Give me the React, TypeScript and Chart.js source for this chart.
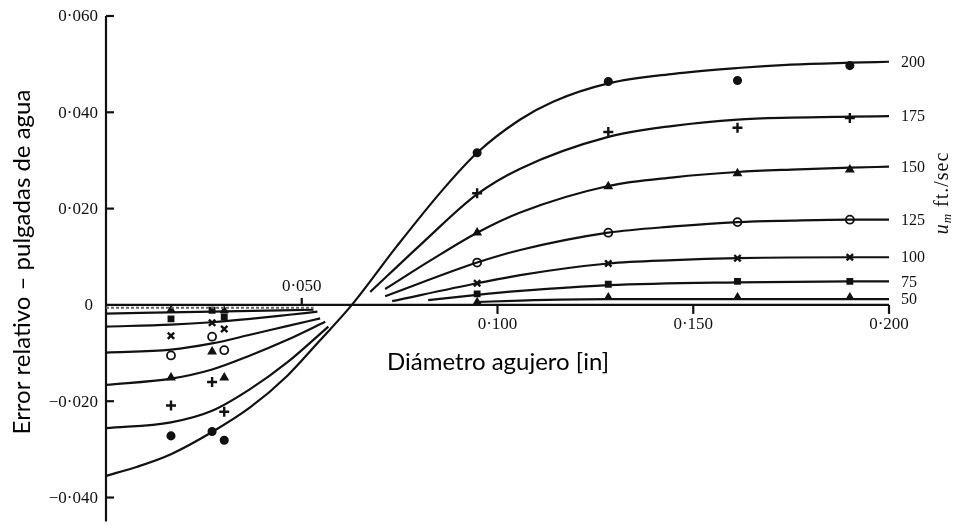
import React, { useEffect, useRef } from "react";
import { Chart, registerables } from "chart.js";

Chart.register(...registerables);

// Hole diameters (in) of the test points
const leftHoles = [0.0166, 0.0271, 0.0302];
const rightHoles = [0.0948, 0.1283, 0.1613, 0.19];

// Mean speeds u_m (ft/sec), one fitted curve each
const speeds = [200, 175, 150, 125, 100, 75, 50];

// u_m = 200: a single continuous fitted curve
const curve200X = [0, 0.008, 0.0166, 0.0271, 0.0368, 0.0462, 0.0545, 0.0628, 0.0743, 0.0861, 0.0948, 0.1058, 0.1142, 0.1283, 0.145, 0.1613, 0.175, 0.19, 0.2];
const curve200Y = [-0.0355, -0.0336, -0.031, -0.0264, -0.0213, -0.0148, -0.0075, 0, 0.0122, 0.024, 0.0316, 0.0385, 0.0422, 0.046, 0.048, 0.0492, 0.0499, 0.0503, 0.0505];

// Fitted curves below zero (small holes)
const low175X = [0, 0.0166, 0.0271, 0.0368, 0.0462, 0.0568];
const low175Y = [-0.0256, -0.0244, -0.022, -0.0175, -0.012, -0.0045];
const low150X = [0, 0.0166, 0.0271, 0.0368, 0.0462, 0.056];
const low150Y = [-0.0166, -0.0153, -0.0134, -0.0105, -0.0073, -0.0035];
const low125X = [0, 0.0166, 0.0271, 0.0368, 0.0462, 0.0547];
const low125Y = [-0.0099, -0.0093, -0.0080, -0.0062, -0.0044, -0.0028];
const low100X = [0, 0.0166, 0.0271, 0.0368, 0.0462, 0.054];
const low100Y = [-0.0045, -0.0041, -0.0036, -0.0029, -0.0021, -0.0014];
const low75X = [0, 0.0271, 0.053];
const low75Y = [-0.0018, -0.0014, -0.001];
const low50X = [0, 0.053];
const low50Y = [-0.0006, -0.0006];

// Fitted curves above zero (large holes)
const high175X = [0.0675, 0.081, 0.0948, 0.1058, 0.1283, 0.145, 0.1613, 0.175, 0.19, 0.2];
const high175Y = [0.0027, 0.013, 0.023, 0.0283, 0.0349, 0.0372, 0.0385, 0.0389, 0.0391, 0.0392];
const high150X = [0.0713, 0.083, 0.0948, 0.1058, 0.1283, 0.145, 0.1613, 0.175, 0.19, 0.2];
const high150Y = [0.0033, 0.0093, 0.015, 0.0192, 0.0247, 0.0265, 0.0276, 0.0281, 0.0285, 0.0287];
const high125X = [0.0713, 0.0948, 0.1058, 0.1283, 0.145, 0.1613, 0.175, 0.19, 0.2];
const high125Y = [0.0018, 0.0088, 0.0114, 0.015, 0.0163, 0.0172, 0.0175, 0.0177, 0.0177];
const high100X = [0.0731, 0.0948, 0.1058, 0.1283, 0.145, 0.1613, 0.19, 0.2];
const high100Y = [0.0008, 0.0045, 0.0062, 0.0086, 0.0093, 0.0097, 0.0099, 0.0099];
const high75X = [0.0823, 0.0948, 0.1058, 0.1283, 0.1613, 0.19, 0.2];
const high75Y = [0.001, 0.0021, 0.0029, 0.0041, 0.0047, 0.0049, 0.0049];
const high50X = [0.0948, 0.1058, 0.1283, 0.2];
const high50Y = [0.0006, 0.0009, 0.0012, 0.0012];

// Measured errors at the small holes (leftHoles)
const pts200Left = [-0.0272, -0.0263, -0.0281];
const pts175Left = [-0.0209, -0.016, -0.0222];
const pts150Left = [-0.0151, -0.0097, -0.0151];
const pts125Left = [-0.0105, -0.0066, -0.0094];
const pts100Left = [-0.0064, -0.0037, -0.005];
const pts75Left = [-0.0029, -0.0011, -0.0025];
const pts50Left = [-0.001, null, -0.0012];

// Measured errors at the large holes (rightHoles)
const pts200Right = [0.0316, 0.0464, 0.0466, 0.0497];
const pts175Right = [0.0232, 0.0359, 0.0368, 0.0388];
const pts150Right = [0.015, 0.0246, 0.0273, 0.0281];
const pts125Right = [0.0088, 0.015, 0.0172, 0.0177];
const pts100Right = [0.0045, 0.0086, 0.0097, 0.0099];
const pts75Right = [0.0023, 0.0043, 0.0049, 0.0049];
const pts50Right = [0.0006, 0.0016, 0.0016, 0.0016];

// Axis ticks
const yTicks = [0.06, 0.04, 0.02, 0, -0.02, -0.04];
const yTickLabels = ["0·060", "0·040", "0·020", "0", "−0·020", "−0·040"];
const xTicks = [0.05, 0.1, 0.15, 0.2];
const xTickLabels = ["0·050", "0·100", "0·150", "0·200"];

const X_MIN = 0;
const X_MAX = 0.2;
const Y_MIN = -0.045;
const Y_MAX = 0.06;

const zip = (xs: number[], ys: (number | null)[]) =>
  xs.map((x, i) => ({ x, y: ys[i] })).filter((p) => p.y !== null);

const curveSet = (xs: number[], ys: number[], extra: any = {}) => ({
  type: "line" as const,
  data: zip(xs, ys),
  borderColor: "#111",
  borderWidth: 2.2,
  pointRadius: 0,
  cubicInterpolationMode: "monotone" as const,
  fill: false,
  ...extra,
});

const pointSet = (xs: number[], ys: (number | null)[], style: any) => ({
  type: "line" as const,
  data: zip(xs, ys),
  showLine: false,
  borderColor: "#111",
  backgroundColor: "#111",
  pointBorderColor: "#111",
  pointBackgroundColor: "#111",
  pointBorderWidth: 1.5,
  ...style,
});

const markerStyles: Record<number, any> = {
  200: { pointStyle: "circle", pointRadius: 3.8 },
  175: { pointStyle: "cross", pointRadius: 5, pointBorderWidth: 2.4 },
  150: { pointStyle: "triangle", pointRadius: 4.2 },
  125: { pointStyle: "circle", pointRadius: 4, pointBackgroundColor: "#fff", pointBorderWidth: 1.8 },
  100: { pointStyle: "crossRot", pointRadius: 4.5, pointBorderWidth: 2.4 },
  75: { pointStyle: "rect", pointRadius: 3.8 },
  50: { pointStyle: "triangle", pointRadius: 3.8 },
};

const curveEnds: Record<number, number> = {
  200: curve200Y[curve200Y.length - 1],
  175: high175Y[high175Y.length - 1],
  150: high150Y[high150Y.length - 1],
  125: high125Y[high125Y.length - 1],
  100: high100Y[high100Y.length - 1],
  75: high75Y[high75Y.length - 1],
  50: high50Y[high50Y.length - 1],
};

const SERIF = '"Liberation Serif", "Times New Roman", serif';
const SANS = 'Lato, "Open Sans", sans-serif';

// Draws the axis lines, ticks, titles and curve labels
const framePlugin = {
  id: "frame",
  beforeDatasetsDraw(chart: any) {
    const { ctx } = chart;
    const xs = chart.scales.x;
    const ys = chart.scales.y;
    const x0 = xs.getPixelForValue(0);
    const y0 = ys.getPixelForValue(0);
    ctx.save();
    ctx.strokeStyle = "#111";
    ctx.lineWidth = 2.2;
    ctx.lineCap = "butt";
    // vertical axis
    ctx.beginPath();
    ctx.moveTo(x0, ys.getPixelForValue(Y_MAX));
    ctx.lineTo(x0, ys.getPixelForValue(Y_MIN));
    ctx.stroke();
    // zero line
    ctx.beginPath();
    ctx.moveTo(x0, y0);
    ctx.lineTo(xs.getPixelForValue(X_MAX), y0);
    ctx.stroke();

    ctx.fillStyle = "#111";
    ctx.font = `17px ${SERIF}`;
    ctx.textBaseline = "middle";
    ctx.textAlign = "right";
    yTicks.forEach((v, i) => {
      const py = ys.getPixelForValue(v);
      if (v !== 0) {
        ctx.beginPath();
        ctx.moveTo(x0, py);
        ctx.lineTo(x0 + 8, py);
        ctx.stroke();
      }
      ctx.fillText(yTickLabels[i], v === 0 ? x0 - 13 : x0 - 8, py + 1);
    });

    ctx.textAlign = "center";
    xTicks.forEach((v, i) => {
      const px = xs.getPixelForValue(v);
      const up = i === 0;
      ctx.beginPath();
      ctx.moveTo(px, y0);
      ctx.lineTo(px, up ? y0 - 7 : y0 + 9);
      ctx.stroke();
      ctx.fillText(xTickLabels[i], px, up ? y0 - 18 : y0 + 20);
    });

    // axis titles
    ctx.fillStyle = "#000";
    ctx.font = `24px ${SANS}`;
    ctx.textAlign = "center";
    ctx.fillText("Diámetro agujero [in]", 498, 362);
    ctx.save();
    ctx.translate(22, 262);
    ctx.rotate(-Math.PI / 2);
    ctx.fillText("Error relativo – pulgadas de agua", 0, 0);
    ctx.restore();
    ctx.restore();
  },
  afterDatasetsDraw(chart: any) {
    const { ctx } = chart;
    const xs = chart.scales.x;
    const ys = chart.scales.y;
    const xEnd = xs.getPixelForValue(X_MAX);
    ctx.save();
    ctx.fillStyle = "#111";
    ctx.font = `16px ${SERIF}`;
    ctx.textAlign = "left";
    ctx.textBaseline = "middle";
    speeds.forEach((s) => {
      ctx.fillText(String(s), xEnd + 12, ys.getPixelForValue(curveEnds[s]) + 1);
    });

    // rotated speed unit: u_m ft./sec
    ctx.translate(943, 193);
    ctx.rotate(-Math.PI / 2);
    const partU = "u";
    const partM = "m";
    const partRest = " ft./sec";
    const big = `20px ${SERIF}`;
    const bigIt = `italic 20px ${SERIF}`;
    const smallIt = `italic 13px ${SERIF}`;
    (ctx as any).letterSpacing = "1px";
    ctx.font = bigIt;
    const wU = ctx.measureText(partU).width;
    ctx.font = smallIt;
    const wM = ctx.measureText(partM).width;
    ctx.font = big;
    const wR = ctx.measureText(partRest).width;
    let cx = -(wU + wM + wR) / 2;
    ctx.textAlign = "left";
    ctx.font = bigIt;
    ctx.fillText(partU, cx, 0);
    cx += wU;
    ctx.font = smallIt;
    ctx.fillText(partM, cx, 5);
    cx += wM;
    ctx.font = big;
    ctx.fillText(partRest, cx, 0);
    ctx.restore();
  },
};

export default function App() {
  const ref = useRef<HTMLCanvasElement | null>(null);

  useEffect(() => {
    if (!ref.current) return;
    const datasets: any[] = [
      curveSet(curve200X, curve200Y),
      curveSet(low175X, low175Y),
      curveSet(low150X, low150Y),
      curveSet(low125X, low125Y),
      curveSet(low100X, low100Y),
      curveSet(low75X, low75Y),
      curveSet(low50X, low50Y, { borderColor: "#666", borderDash: [3, 2], borderWidth: 2 }),
      curveSet(high175X, high175Y),
      curveSet(high150X, high150Y),
      curveSet(high125X, high125Y),
      curveSet(high100X, high100Y),
      curveSet(high75X, high75Y),
      curveSet(high50X, high50Y),
    ];
    const leftPts: Record<number, (number | null)[]> = {
      200: pts200Left, 175: pts175Left, 150: pts150Left, 125: pts125Left,
      100: pts100Left, 75: pts75Left, 50: pts50Left,
    };
    const rightPts: Record<number, number[]> = {
      200: pts200Right, 175: pts175Right, 150: pts150Right, 125: pts125Right,
      100: pts100Right, 75: pts75Right, 50: pts50Right,
    };
    speeds.forEach((s) => {
      datasets.push(pointSet(leftHoles, leftPts[s], markerStyles[s]));
      datasets.push(pointSet(rightHoles, rightPts[s], markerStyles[s]));
    });

    const chart = new Chart(ref.current, {
      type: "line",
      data: { datasets },
      options: {
        responsive: false,
        animation: false,
        layout: { padding: { left: 106, right: 64, top: 16, bottom: 2 } },
        scales: {
          x: { type: "linear", min: X_MIN, max: X_MAX, display: false },
          y: { type: "linear", min: Y_MIN, max: Y_MAX, display: false },
        },
        plugins: { legend: { display: false }, tooltip: { enabled: false } },
        elements: { line: { tension: 0.4 } },
      },
      plugins: [framePlugin],
    });
    return () => chart.destroy();
  }, []);

  return (
    <div style={{ position: "fixed", left: 0, top: 0, width: 953, height: 529, background: "#fff" }}>
      <canvas ref={ref} width={953} height={529} style={{ display: "block" }} />
    </div>
  );
}
